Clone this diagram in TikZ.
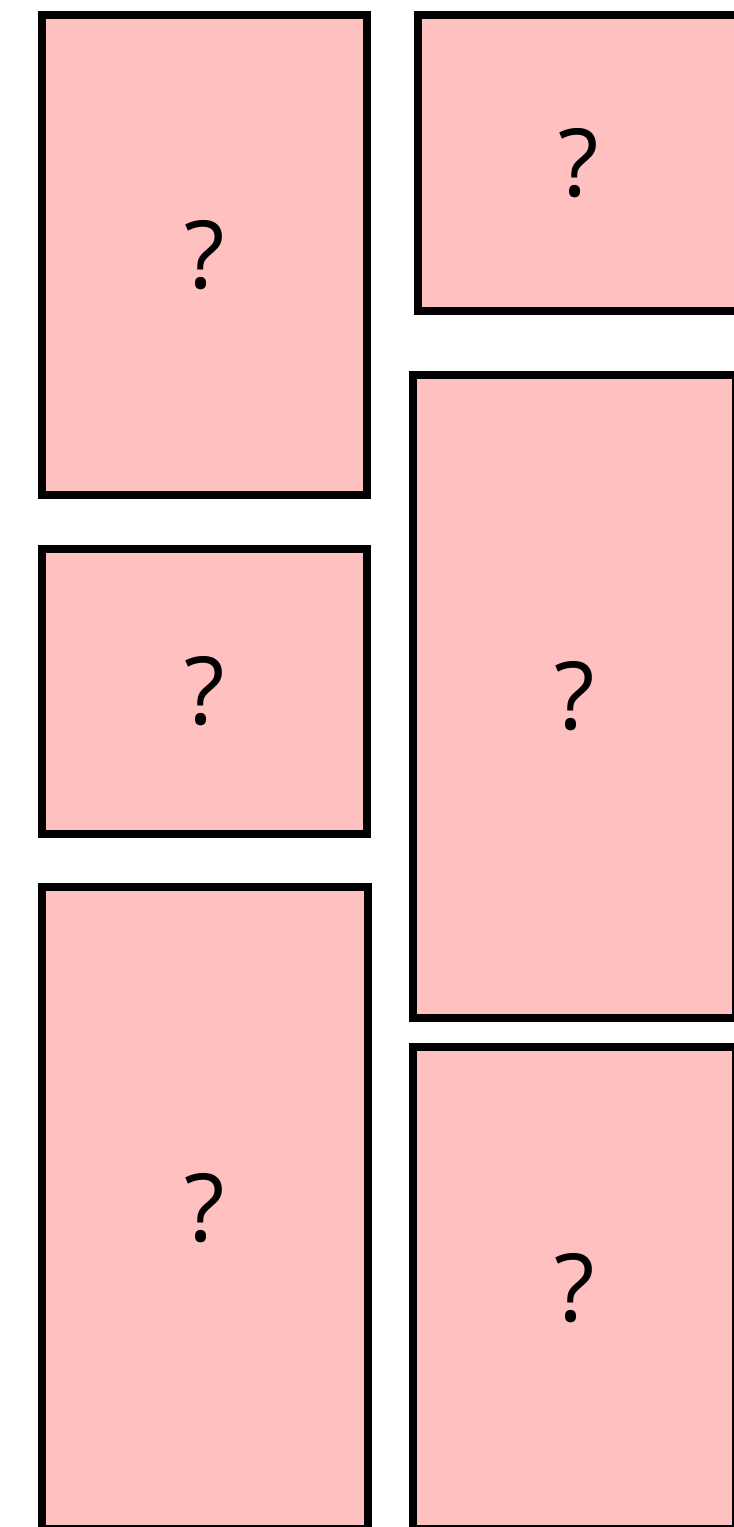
\documentclass[tikz,border=0pt]{standalone}
\usepackage{fontspec}
\setmainfont{Open Sans}
\definecolor{boxpink}{RGB}{255,192,192}
\tikzset{
  qbox/.style={draw=black, fill=boxpink, line width=8pt, rectangle, inner sep=0pt, outer sep=0pt,
    font=\fontsize{94}{94}\selectfont, text=black},
}
\begin{document}
\begin{tikzpicture}[x=1pt,y=-1pt]
\useasboundingbox (0,0) rectangle (734,1527);
\clip (0,0) rectangle (734,1527);
\fill[white] (0,0) rectangle (734,1527);
\node[qbox, minimum width=325pt, minimum height=480pt] (b1) at (204.5,255) {?};
\node[qbox, minimum width=322pt, minimum height=296pt] (b2) at (579,163) {?};
\node[qbox, minimum width=325pt, minimum height=285pt] (b3) at (204.5,691.5) {?};
\node[qbox, minimum width=323pt, minimum height=643pt] (b4) at (574.5,696.5) {?};
\node[qbox, minimum width=326pt, minimum height=642pt] (b5) at (205,1208) {?};
\node[qbox, minimum width=323pt, minimum height=482pt] (b6) at (574.5,1288) {?};
\end{tikzpicture}
\end{document}
